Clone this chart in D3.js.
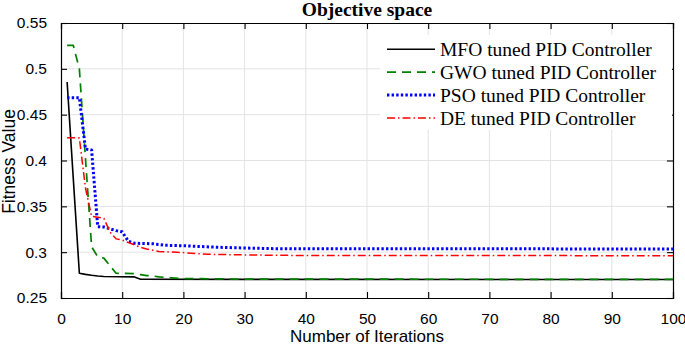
<!DOCTYPE html>
<html lang="en">
<head>
    <meta charset="UTF-8">
    <title>Objective space</title>
    <script src="https://cdn.jsdelivr.net/npm/d3@7"></script>
    <style>
        body{margin:0;background:#fff;}
        svg{display:block;}
    </style>
</head>
<body>
    <script>
             // data
             var mfoIter=[1,2,3,4,5,6,7,12,13,30,100];
             var mfoFit=[0.4856,0.381,0.277,0.2758,0.2748,0.274,0.2734,0.273,0.2705,0.2703,0.2702];
             var gwoIter=[1,2,3,4,5,6,7,9,12,13,14,15,16,17,18,20,30,100];
             var gwoFit=[0.5257,0.5257,0.500,0.402,0.306,0.295,0.2935,0.277,0.2765,0.2755,0.2745,0.274,0.273,0.2725,0.272,0.2712,0.2706,0.2703];
             var psoIter=[1,2,3,4,5,6,7,8,9,10,11,12,15,17,20,25,30,35,100];
             var psoFit=[0.4685,0.4685,0.4685,0.4125,0.4115,0.3278,0.3275,0.3255,0.3235,0.3222,0.312,0.3097,0.3092,0.3075,0.307,0.3055,0.3045,0.3038,0.3035];
             var deIter=[1,2,3,4,5,6,7,8,9,10,11,12,13,14,15,16,19,20,24,30,40,100];
             var deFit=[0.4249,0.4249,0.4245,0.37,0.339,0.338,0.337,0.322,0.3145,0.3132,0.3105,0.308,0.3052,0.3035,0.3022,0.3008,0.2998,0.2995,0.2977,0.297,0.2963,0.2962];
             var xTicks=[0,10,20,30,40,50,60,70,80,90,100];
             var yTicks=[0.25,0.3,0.35,0.4,0.45,0.5,0.55];
             var legendNames=["MFO tuned PID Controller","GWO tuned PID Controller","PSO tuned PID Controller","DE tuned PID Controller"];

             var width=685,height=345;
             var plot={left:61,right:673,top:23,bottom:298};

             var series=[
                 {x:mfoIter,y:mfoFit,color:"#000000",w:1.6,dash:null},
                 {x:gwoIter,y:gwoFit,color:"#008000",w:1.7,dash:"9,6"},
                 {x:psoIter,y:psoFit,color:"#0000ff",w:3,dash:"2.4,2.2"},
                 {x:deIter,y:deFit,color:"#ff0000",w:1.5,dash:"8,3,1.5,3"}
             ];

             var svg=d3.select("body").append("svg").attr("width",width).attr("height",height);
             var xScale=d3.scaleLinear().domain([0,100]).range([plot.left,plot.right]);
             var yScale=d3.scaleLinear().domain([0.25,0.55]).range([plot.bottom,plot.top]);

             //网格
             svg.append("g").selectAll("line").data(xTicks.slice(1,-1)).enter().append("line")
                     .attr("x1",function(d){return xScale(d);}).attr("x2",function(d){return xScale(d);})
                     .attr("y1",plot.top).attr("y2",plot.bottom)
                     .attr("stroke","#e3e3e3").attr("stroke-width",1);
             svg.append("g").selectAll("line").data(yTicks.slice(1,-1)).enter().append("line")
                     .attr("y1",function(d){return yScale(d);}).attr("y2",function(d){return yScale(d);})
                     .attr("x1",plot.left).attr("x2",plot.right)
                     .attr("stroke","#e3e3e3").attr("stroke-width",1);

             //坐标轴
             var xAxis=d3.axisBottom(xScale).tickValues(xTicks).tickSize(-6).tickPadding(15).tickFormat(d3.format("d"));
             var yAxis=d3.axisLeft(yScale).tickValues(yTicks).tickSize(-6).tickPadding(14).tickFormat(function(d){return String(+d.toFixed(2));});
             var gx=svg.append("g").attr("transform","translate(0,"+plot.bottom+")").call(xAxis);
             var gy=svg.append("g").attr("transform","translate("+plot.left+",0)").call(yAxis);
             var gx2=svg.append("g").attr("transform","translate(0,"+plot.top+")").call(d3.axisTop(xScale).tickValues(xTicks).tickSize(-6).tickFormat(""));
             var gy2=svg.append("g").attr("transform","translate("+plot.right+",0)").call(d3.axisRight(yScale).tickValues(yTicks).tickSize(-6).tickFormat(""));
             [gx,gy,gx2,gy2].forEach(function(g){
                 g.select(".domain").attr("stroke","#000").attr("stroke-width",1.2);
                 g.selectAll(".tick line").attr("stroke","#000").attr("stroke-width",1.1);
                 g.selectAll(".tick text").attr("fill","#000").attr("font-family","Liberation Sans, Arial, sans-serif").attr("font-size","15.5px");
             });
             gx.selectAll(".tick text").attr("dy","0.71em");

             //图例背景
             svg.append("rect").attr("x",380).attr("y",35).attr("width",plot.right-381).attr("height",95).attr("fill","#fff");

             //曲线
             var line=d3.line().x(function(d){return xScale(d[0]);}).y(function(d){return yScale(d[1]);});
             series.forEach(function(s){
                 var pts=s.x.map(function(v,i){return [v,s.y[i]];});
                 svg.append("path").datum(pts).attr("d",line)
                         .attr("fill","none").attr("stroke",s.color).attr("stroke-width",s.w)
                         .attr("stroke-dasharray",s.dash).attr("stroke-linejoin","round");
             });

             //图例
             var lg=svg.append("g");
             series.forEach(function(s,i){
                 var y=49.3+i*22.9;
                 lg.append("line").attr("x1",387).attr("x2",435).attr("y1",y).attr("y2",y)
                         .attr("stroke",s.color).attr("stroke-width",s.w).attr("stroke-dasharray",s.dash);
                 lg.append("text").attr("x",440).attr("y",y+6.5).text(legendNames[i])
                         .attr("font-family","Liberation Serif, Times New Roman, serif").attr("font-size","19.5px").attr("fill","#000");
             });

             //标题和轴标签
             svg.append("text").attr("x",(plot.left+plot.right)/2).attr("y",15.5).attr("text-anchor","middle")
                     .attr("font-family","Liberation Serif, Times New Roman, serif").attr("font-weight","bold").attr("font-size","19.5px")
                     .text("Objective space");
             svg.append("text").attr("x",(plot.left+plot.right)/2).attr("y",342).attr("text-anchor","middle")
                     .attr("font-family","Liberation Sans, Arial, sans-serif").attr("font-size","17px")
                     .text("Number of Iterations");
             svg.append("text").attr("transform","translate(15,"+((plot.top+plot.bottom)/2+1)+") rotate(-90)").attr("text-anchor","middle")
                     .attr("font-family","Liberation Sans, Arial, sans-serif").attr("font-size","17.5px")
                     .text("Fitness Value");
    </script>
</body>
</html>
